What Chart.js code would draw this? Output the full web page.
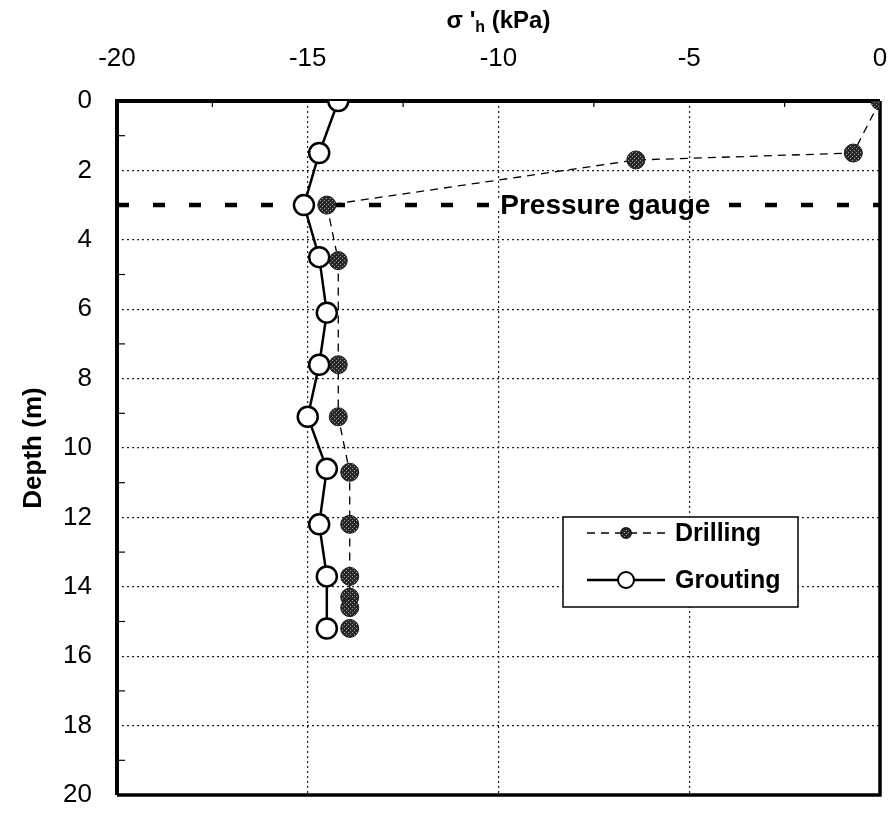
<!DOCTYPE html>
<html>
<head>
<meta charset="utf-8">
<script src="https://cdn.jsdelivr.net/npm/chart.js@4.4.1/dist/chart.umd.min.js"></script>
<style>
  html,body{margin:0;padding:0;background:#fff}
  #caja{width:894px;height:814px}
</style>
</head>
<body>
<div id="caja"><canvas id="grafica"></canvas></div>
<script>
// datos
const depthDrilling=[0,1.5,1.7,3.0,4.6,7.6,9.1,10.7,12.2,13.7,14.3,14.6,15.2]
const stressDrilling=[0,-0.7,-6.4,-14.5,-14.2,-14.2,-14.2,-13.9,-13.9,-13.9,-13.9,-13.9,-13.9]
const depthGrouting=[0,1.5,3.0,4.5,6.1,7.6,9.1,10.6,12.2,13.7,15.2]
const stressGrouting=[-14.2,-14.7,-15.1,-14.7,-14.5,-14.7,-15.0,-14.5,-14.7,-14.5,-14.5]
const gaugeDepth=3
const gaugeStress=[-20,0]
const gaugeLabel='Pressure gauge'
const gaugeLabelAt=-7.2
const xTicks=[-20,-15,-10,-5,0]
const yTicks=[0,2,4,6,8,10,12,14,16,18,20]
const xMinor=[-17.5,-12.5,-7.5,-2.5]
const yMinor=[1,3,5,7,9,11,13,15,17,19]
const etiquetas=['Drilling','Grouting']

function puntos(xs,ys){ return xs.map((x,i)=>({x:x,y:ys[i]})) }

// textura del punto relleno
function tramaPunto(){
    const c=document.createElement('canvas'); c.width=4; c.height=4
    const g=c.getContext('2d')
    g.fillStyle='#2a2a2a'; g.fillRect(0,0,4,4)
    g.fillStyle='#9a9a9a'; g.fillRect(0,0,1,1); g.fillRect(2,2,1,1)
    return document.getElementById('grafica').getContext('2d').createPattern(c,'repeat')
}
const trama=tramaPunto()
const fuente='"Liberation Sans", Arial, sans-serif'

const marco={
    id:'marco',
    beforeDatasetsDraw(chart){
        const {ctx,chartArea:a,scales:{x,y}}=chart
        ctx.save()
        ctx.strokeStyle='#000'
        ctx.lineWidth=1.2
        yMinor.forEach(v=>{ const p=y.getPixelForValue(v); ctx.beginPath(); ctx.moveTo(a.left,p); ctx.lineTo(a.left+8,p); ctx.stroke() })
        xMinor.forEach(v=>{ const p=x.getPixelForValue(v); ctx.beginPath(); ctx.moveTo(p,a.top); ctx.lineTo(p,a.top+6); ctx.stroke() })
        ctx.lineWidth=4
        ctx.beginPath()
        ctx.moveTo(a.left,a.bottom); ctx.lineTo(a.left,a.top); ctx.lineTo(a.right,a.top)
        ctx.stroke()
        ctx.lineWidth=3.5
        ctx.beginPath()
        ctx.moveTo(a.right,a.top); ctx.lineTo(a.right,a.bottom); ctx.lineTo(a.left,a.bottom)
        ctx.stroke()
        ctx.restore()
    },
    afterDatasetsDraw(chart){
        const {ctx,scales:{x,y}}=chart
        ctx.save()
        // etiqueta del manometro
        ctx.font='bold 28px '+fuente
        ctx.textAlign='center'; ctx.textBaseline='middle'
        const gx=x.getPixelForValue(gaugeLabelAt), gy=y.getPixelForValue(gaugeDepth)
        const w=ctx.measureText(gaugeLabel).width
        ctx.fillStyle='#fff'
        ctx.fillRect(gx-w/2-8,gy-5,w+16,10)
        ctx.fillStyle='#000'
        ctx.fillText(gaugeLabel,gx,gy+1)

        // leyenda
        const L=563, T=517, R=798, B=607
        ctx.fillStyle='#fff'; ctx.fillRect(L,T,R-L,B-T)
        ctx.strokeStyle='#000'; ctx.lineWidth=1.5; ctx.strokeRect(L,T,R-L,B-T)
        ctx.font='bold 25px '+fuente
        ctx.textAlign='left'; ctx.textBaseline='middle'
        const filas=[533,580]
        chart.data.datasets.slice(0,2).forEach((ds,i)=>{
            const fy=filas[i]
            ctx.strokeStyle='#000'; ctx.lineWidth=ds.borderWidth
            ctx.setLineDash(ds.borderDash||[])
            ctx.beginPath(); ctx.moveTo(587,fy); ctx.lineTo(665,fy); ctx.stroke()
            ctx.setLineDash([])
            ctx.beginPath(); ctx.arc(626,fy,i==0?5:8,0,Math.PI*2)
            ctx.fillStyle=ds.pointBackgroundColor; ctx.fill()
            ctx.lineWidth=2; ctx.strokeStyle=ds.pointBorderColor; ctx.stroke()
            ctx.fillStyle='#000'
            ctx.fillText(etiquetas[i],675,fy+1)
        })

        // titulo eje x con subindice
        const cx=(chart.chartArea.left+chart.chartArea.right)/2
        const f1='bold 24px '+fuente, f2='bold 16px '+fuente
        const t1="\u03c3 '", t2='h', t3=' (kPa)'
        ctx.font=f1
        const w1=ctx.measureText(t1).width, w3=ctx.measureText(t3).width
        ctx.font=f2; const w2=ctx.measureText(t2).width
        let px=cx-(w1+w2+w3)/2
        ctx.textBaseline='alphabetic'
        ctx.font=f1; ctx.fillText(t1,px,28); px+=w1
        ctx.font=f2; ctx.fillText(t2,px,32); px+=w2
        ctx.font=f1; ctx.fillText(t3,px,28)
        ctx.restore()
    }
}

function rejilla(extremos){
    return ctx=>{
        const v=ctx.tick&&ctx.tick.value
        return extremos.includes(v)?'rgba(0,0,0,0)':'#222'
    }
}

var grafica=new Chart(document.getElementById('grafica'),{
    type:'scatter',
    data:{
        datasets:[{
            label:etiquetas[0],
            data:puntos(stressDrilling,depthDrilling),
            showLine:true,
            borderColor:'#000',
            borderWidth:1.3,
            borderDash:[8,6],
            pointRadius:9,
            pointBackgroundColor:trama,
            pointBorderColor:'#1a1a1a',
            pointBorderWidth:1,
            order:2
        },{
            label:etiquetas[1],
            data:puntos(stressGrouting,depthGrouting),
            showLine:true,
            borderColor:'#000',
            borderWidth:2.5,
            pointRadius:10,
            pointBackgroundColor:'#fff',
            pointBorderColor:'#000',
            pointBorderWidth:2.5,
            order:1
        },{
            label:'gauge',
            data:puntos(gaugeStress,[gaugeDepth,gaugeDepth]),
            showLine:true,
            borderColor:'#000',
            borderWidth:4.5,
            borderDash:[12,24],
            pointRadius:0,
            order:3
        }]
    },
    options:{
        responsive:true,
        maintainAspectRatio:false,
        animation:false,
        layout:{padding:{left:0,top:0,right:14,bottom:19}},
        plugins:{legend:{display:false},tooltip:{enabled:false}},
        scales:{
            x:{
                type:'linear',
                position:'top',
                min:-20,max:0,
                afterBuildTicks:s=>{ s.ticks=xTicks.map(v=>({value:v})) },
                afterFit:s=>{ s.height=101; s.paddingLeft=0; s.paddingRight=0 },
                ticks:{color:'#000',padding:27,autoSkip:false,maxRotation:0,
                    font:{family:fuente,size:26}},
                grid:{color:rejilla([-20,0]),lineWidth:1.2,drawTicks:false},
                border:{display:false,dash:[2,3]}
            },
            y:{
                type:'linear',
                position:'left',
                reverse:true,
                min:0,max:20,
                afterBuildTicks:s=>{ s.ticks=yTicks.map(v=>({value:v})) },
                afterFit:s=>{ s.width=117; s.paddingTop=0; s.paddingBottom=0 },
                ticks:{color:'#000',padding:25,autoSkip:false,
                    font:{family:fuente,size:26}},
                grid:{color:rejilla([0,20]),lineWidth:1.2,drawTicks:false},
                border:{display:false,dash:[2,3]},
                title:{display:true,text:'Depth (m)',color:'#000',padding:{top:18,bottom:0},
                    font:{family:fuente,size:26,weight:'bold'}}
            }
        }
    },
    plugins:[marco]
})
</script>
</body>
</html>
